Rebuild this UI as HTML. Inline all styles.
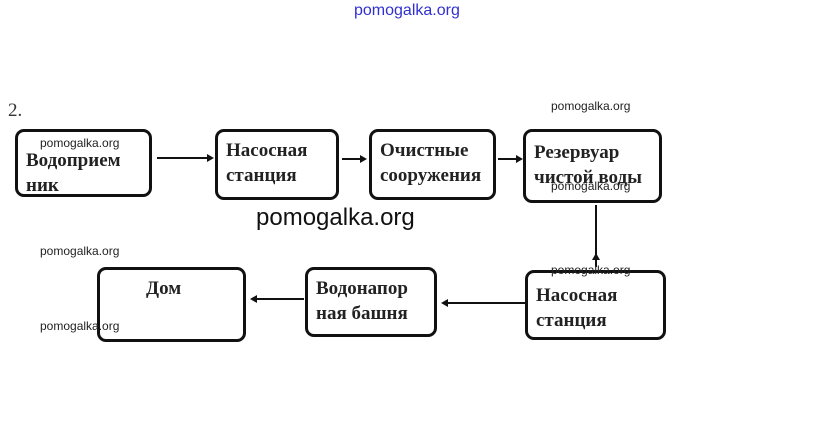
<!DOCTYPE html>
<html><head><meta charset="utf-8"><style>
body{margin:0;width:823px;height:441px;background:#fff;position:relative;overflow:hidden;font-family:"Liberation Serif",serif}
.b{position:absolute;border:3px solid #111;border-radius:9px;box-sizing:border-box;font-weight:bold;font-size:19px;line-height:25px;color:#222;padding:6px 8px}
.w{position:absolute;font-family:"Liberation Sans",sans-serif;font-size:12px;color:#222}
.l{position:absolute;background:#111}
.ar{position:absolute;width:0;height:0;border-top:4px solid transparent;border-bottom:4px solid transparent;border-left:7px solid #111}
.al{position:absolute;width:0;height:0;border-top:4px solid transparent;border-bottom:4px solid transparent;border-right:7px solid #111}
.au{position:absolute;width:0;height:0;border-left:4px solid transparent;border-right:4px solid transparent;border-bottom:7px solid #111}
</style></head><body>
<div class="w" style="left:354px;top:2px;font-size:16px;color:#3030d0">pomogalka.org</div>
<div style="position:absolute;left:8px;top:100px;font-size:19px;color:#333">2.</div>
<div class="b" style="left:15px;top:129px;width:137px;height:68px;padding-top:16px">Водоприем<br>ник</div>
<div class="b" style="left:215px;top:129px;width:124px;height:71px">Насосная<br>станция</div>
<div class="b" style="left:369px;top:129px;width:127px;height:71px">Очистные<br>сооружения</div>
<div class="b" style="left:523px;top:129px;width:139px;height:74px;padding-top:8px">Резервуар<br>чистой воды</div>
<div class="b" style="left:525px;top:270px;width:141px;height:70px;padding-top:10px">Насосная<br>станция</div>
<div class="b" style="left:305px;top:267px;width:132px;height:70px">Водонапор<br>ная башня</div>
<div class="b" style="left:97px;top:267px;width:149px;height:75px;padding-left:46px">Дом</div>
<div class="l" style="left:157px;top:157px;width:52px;height:2px"></div><div class="ar" style="left:207px;top:154px"></div>
<div class="l" style="left:342px;top:158px;width:20px;height:2px"></div><div class="ar" style="left:360px;top:155px"></div>
<div class="l" style="left:498px;top:158px;width:20px;height:2px"></div><div class="ar" style="left:516px;top:155px"></div>
<div class="l" style="left:595px;top:205px;width:2px;height:62px"></div><div class="au" style="left:592px;top:253px"></div>
<div class="l" style="left:447px;top:302px;width:78px;height:2px"></div><div class="al" style="left:441px;top:299px"></div>
<div class="l" style="left:256px;top:298px;width:48px;height:2px"></div><div class="al" style="left:250px;top:295px"></div>
<div class="w" style="left:40px;top:136px">pomogalka.org</div>
<div class="w" style="left:551px;top:99px">pomogalka.org</div>
<div class="w" style="left:551px;top:179px">pomogalka.org</div>
<div class="w" style="left:551px;top:263px">pomogalka.org</div>
<div class="w" style="left:40px;top:244px">pomogalka.org</div>
<div class="w" style="left:40px;top:319px">pomogalka.org</div>
<div class="w" style="left:256px;top:204px;font-size:24px;color:#111">pomogalka.org</div>
</body></html>
